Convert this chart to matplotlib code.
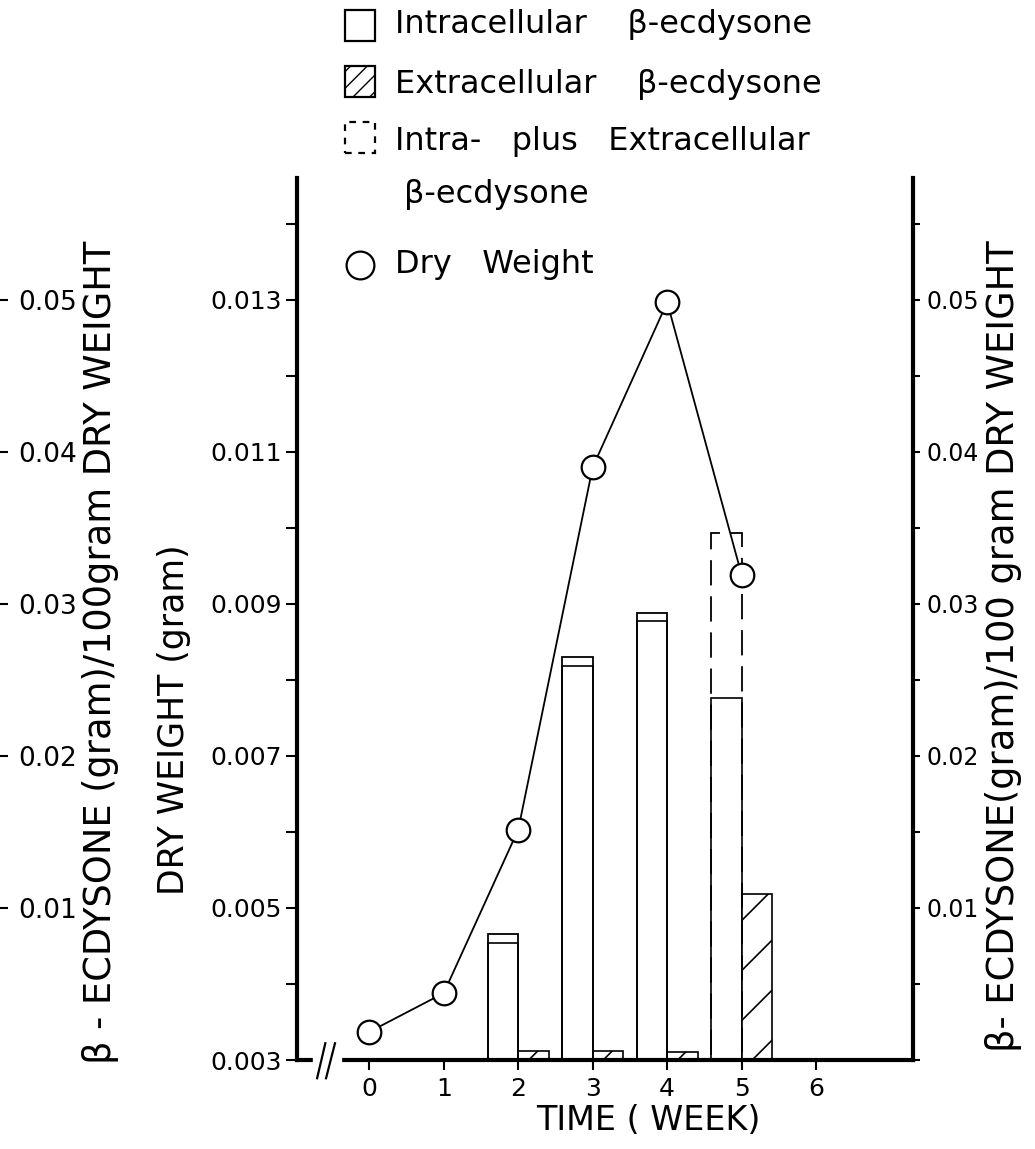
import matplotlib.pyplot as plt
from matplotlib.patches import Rectangle
from matplotlib.lines import Line2D
from matplotlib.ticker import MultipleLocator
import numpy as np

# data
weeks = [0, 1, 2, 3, 4, 5]
dry_weight = [0.00337, 0.00388, 0.00603, 0.0108, 0.01297, 0.00938]   # gram

bar_weeks = [2, 3, 4, 5]
intra = [0.0077, 0.0259, 0.0289, 0.0238]     # g / 100 g dry weight
extra = [0.0006, 0.0006, 0.0005, 0.0109]

left_ticks = [0.003, 0.005, 0.007, 0.009, 0.011, 0.013]
right_ticks = [0.01, 0.02, 0.03, 0.04, 0.05]
x_ticks = [0, 1, 2, 3, 4, 5, 6]

legend_labels = ['Intracellular    \u03b2-ecdysone',
                 'Extracellular    \u03b2-ecdysone',
                 'Intra-   plus   Extracellular',
                 '\u03b2-ecdysone',
                 'Dry   Weight']

plt.rcParams['font.family'] = 'DejaVu Sans'

W, H = 1035, 1149
fig = plt.figure(figsize=(W / 100, H / 100), dpi=100)
ax = fig.add_axes([297 / W, 89 / H, 616 / W, 882 / H])
ax2 = ax.twinx()
ax.set_zorder(ax2.get_zorder() + 1)
ax.patch.set_visible(False)

ax.set_xlim(-0.97, 7.3)
ax.set_ylim(0.003, 0.014605)
ax2.set_ylim(0, 0.058025)

# bars (right axis)
bw = 0.41
total = np.array(intra) + np.array(extra)
ax2.bar(bar_weeks, intra, width=-bw, align='edge', facecolor='white',
        edgecolor='black', lw=1.2)
ext_bars = ax2.bar(bar_weeks, extra, width=bw, align='edge', facecolor='white',
                   edgecolor='black', lw=1.2)
for x, t, e in zip(bar_weeks, total, extra):
    ls = (0, (14, 6)) if e > 0.002 else '-'
    ax2.bar(x, t, width=-bw, align='edge', fill=False, edgecolor='black',
            lw=1.3, linestyle=ls)

# sparse diagonal hatching, clipped to each extracellular bar
sx = 616 / (7.3 + 0.97)
sy = 882 / 0.058025
step = 50 / sy
for r in ext_bars:
    x0, y0, w, h = r.get_x(), r.get_y(), r.get_width(), r.get_height()
    hw = w * sx / sy
    for off in np.arange(y0 - hw + step * 0.4, y0 + h, step):
        ln, = ax2.plot([x0, x0 + w], [off, off + hw], color='black', lw=1.2)
        ln.set_clip_path(r)

# dry weight (left axis)
ax.plot(weeks, dry_weight, color='black', lw=1.3, marker='o', ms=17,
        mfc='white', mec='black', mew=1.6, zorder=5, clip_on=False)

# spines
for s in ['left', 'bottom']:
    ax.spines[s].set_linewidth(3)
ax.spines['top'].set_visible(False)
ax.spines['right'].set_visible(False)
for s in ['left', 'bottom', 'top']:
    ax2.spines[s].set_visible(False)
ax2.spines['right'].set_linewidth(3)

# ticks
ax.set_xticks(x_ticks)
ax.set_xticklabels([str(t) for t in x_ticks])
ax.tick_params(axis='x', direction='out', length=7, width=1.5, pad=5, labelsize=18)
ax.set_yticks(left_ticks)
ax.set_yticklabels(['%.3f' % v for v in left_ticks])
ax.yaxis.set_minor_locator(MultipleLocator(0.001))
ax.tick_params(axis='y', which='both', direction='out', length=8, width=1.5,
               pad=3, labelsize=18)
ax2.set_yticks(right_ticks)
ax2.set_yticklabels(['%.2f' % v for v in right_ticks])
ax2.yaxis.set_minor_locator(MultipleLocator(0.005))
ax2.tick_params(axis='y', which='both', direction='out', length=5, width=1.5,
                pad=5, labelsize=17)

# axis break on the time axis
ax.plot([-0.70, -0.42], [0.003, 0.003], color='white', lw=6, clip_on=False, zorder=6)
ax.plot([-0.70, -0.59], [0.00276, 0.00322], color='black', lw=1.6, clip_on=False, zorder=7)
ax.plot([-0.58, -0.46], [0.00276, 0.00322], color='black', lw=1.6, clip_on=False, zorder=7)

# cut-off axis of the neighbouring panel at the left edge
ax3 = fig.add_axes([-0.2, 89 / H, 0.2 - 3 / W, 882 / H])
ax3.set_ylim(ax2.get_ylim())
ax3.patch.set_visible(False)
for s in ax3.spines.values():
    s.set_visible(False)
ax3.set_xticks([])
ax3.yaxis.tick_right()
ax3.set_yticks(right_ticks)
ax3.set_yticklabels(['%.2f' % v for v in right_ticks])
ax3.tick_params(axis='y', direction='out', length=8, width=1.5, pad=7, labelsize=19)

# axis titles
fig.text(101 / W, 1 - 652 / H, '\u03b2 - ECDYSONE (gram)/100gram DRY WEIGHT',
         rotation=90, ha='center', va='center', fontsize=26.5)
fig.text(174 / W, 1 - 720 / H, 'DRY WEIGHT (gram)', rotation=90,
         ha='center', va='center', fontsize=25)
fig.text(1004 / W, 1 - 646 / H, '\u03b2- ECDYSONE(gram)/100 gram DRY WEIGHT',
         rotation=90, ha='center', va='center', fontsize=26.5)
fig.text(648 / W, 1 - 1121 / H, 'TIME ( WEEK)', ha='center', va='center', fontsize=24)

# legend drawn by hand to follow the original spacing
tf = fig.transFigure
fig.add_artist(Rectangle((345 / W, 1 - 41 / H), 30 / W, 31 / H, transform=tf,
                         fc='white', ec='black', lw=1.6))
fig.add_artist(Rectangle((345 / W, 1 - 97 / H), 30 / W, 31 / H, transform=tf,
                         fc='white', ec='black', lw=1.6, hatch='//'))
fig.add_artist(Rectangle((345 / W, 1 - 153 / H), 30 / W, 31 / H, transform=tf,
                         fill=False, ec='black', lw=1.6, linestyle=(0, (3, 3))))
fig.add_artist(Line2D([360 / W], [1 - 265 / H], transform=tf, marker='o', ms=20,
                      mfc='white', mec='black', mew=1.6, ls='none'))
text_pos = [(395, 33), (395, 93), (395, 150), (404, 203), (395, 273)]
for (px, py), lab in zip(text_pos, legend_labels):
    fig.text(px / W, 1 - py / H, lab, ha='left', va='baseline', fontsize=23)

plt.savefig('out.png', dpi=100)
